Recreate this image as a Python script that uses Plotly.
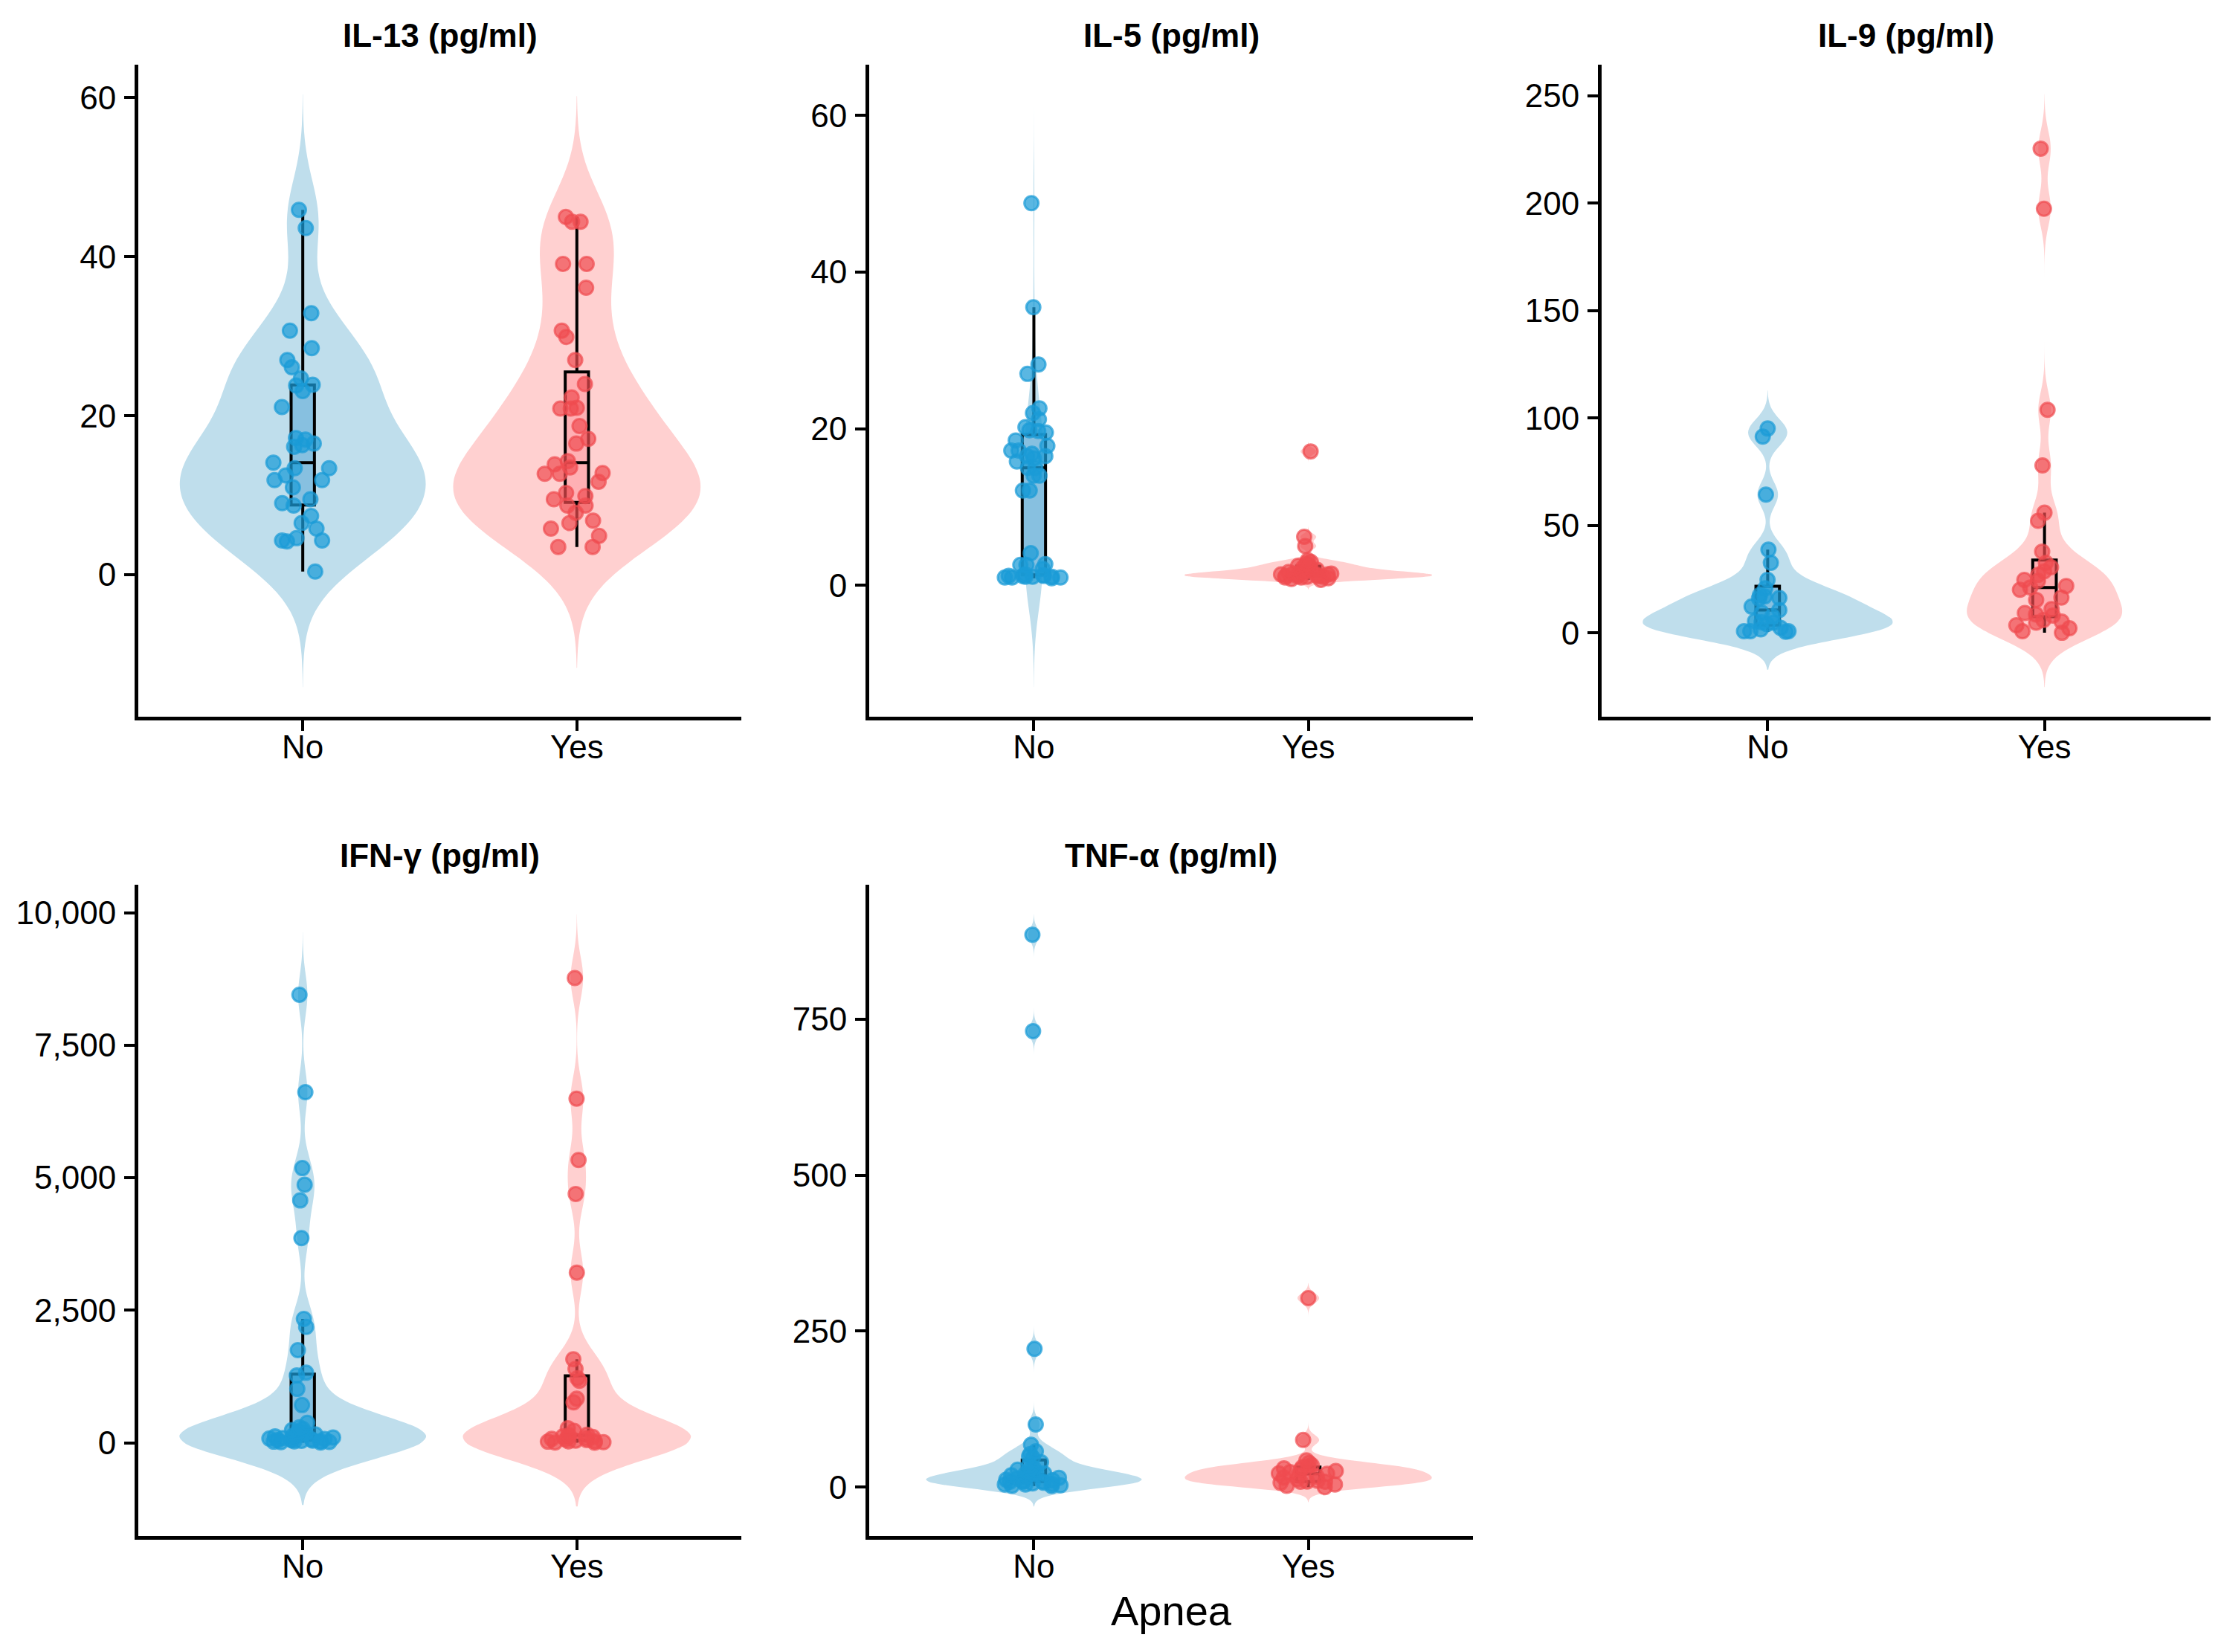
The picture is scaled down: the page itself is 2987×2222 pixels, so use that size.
import numpy as np
import plotly.graph_objects as go

# ---------------- data ----------------
categories = ["No", "Yes"]
panel_titles = ["IL-13 (pg/ml)", "IL-5 (pg/ml)", "IL-9 (pg/ml)", "IFN-γ (pg/ml)", "TNF-α (pg/ml)"]
x_title = "Apnea"

il13_no = [45.9, 43.6, 32.9, 30.7, 28.5, 27.0, 26.1, 24.7, 23.9, 23.8, 23.1, 21.1, 17.2, 16.5,
           17.0, 16.3, 16.1, 14.1, 13.4, 13.4, 12.5, 11.9, 11.9, 11.0, 9.5, 8.7, 9.0, 7.4, 6.5,
           5.8, 4.6, 4.3, 4.3, 4.2, 0.4]
il13_yes = [45.0, 44.4, 44.4, 39.1, 39.1, 36.1, 30.7, 29.9, 27.0, 24.0, 22.3, 21.0, 20.9, 20.9,
            18.7, 17.1, 16.5, 14.3, 13.9, 13.5, 12.8, 12.7, 12.7, 11.7, 10.3, 9.9, 9.5, 8.7, 8.7,
            7.8, 6.8, 6.5, 5.8, 4.9, 3.5, 3.5]

il5_no = [48.8, 35.5, 28.2, 27.0, 22.6, 22.0, 21.2, 19.8, 19.7, 20.2, 19.5, 18.5, 17.8, 17.2,
          17.2, 16.8, 16.5, 16.5, 16.2, 15.8, 15.0, 15.0, 14.0, 14.0, 12.1, 12.1, 4.1, 2.7, 2.6,
          2.6, 2.1, 1.4, 1.3, 1.2, 1.2, 1.2, 1.1, 1.1, 1.1, 1.0, 1.0, 1.0, 0.9]
il5_yes = [17.1, 6.2, 5.0, 3.2, 3.0, 2.8, 2.6, 2.5, 2.3, 2.2, 2.0, 1.9, 1.8, 1.7, 1.6, 1.5, 1.5,
           1.4, 1.4, 1.3, 1.3, 1.2, 1.2, 1.2, 1.1, 1.1, 1.0, 1.0, 0.9, 0.8, 0.7]

il9_no = [95.1, 91.3, 64.3, 38.7, 32.6, 24.6, 20.7, 17.6, 16.9, 16.0, 16.2, 12.2, 10.6, 9.4, 7.7,
          5.4, 4.9, 4.7, 4.0, 2.3, 0.7, 0.7, 0.5, 0.7, 1.6]
il9_yes = [225.4, 197.4, 103.8, 77.9, 55.9, 52.1, 37.8, 32.6, 30.5, 28.6, 27.0, 24.6, 24.2, 21.8,
           21.1, 20.0, 16.4, 15.3, 11.0, 9.2, 8.5, 8.0, 5.9, 5.2, 4.7, 3.5, 2.1, 0.7, 0.0]

ifn_no = [8453, 6614, 5182, 4867, 4572, 3861, 2337, 2185, 1748, 1321, 1270, 1016, 711, 376,
          290, 260, 240, 210, 180, 160, 150, 130, 120, 110, 100, 90, 80, 70, 65, 60, 50, 45,
          40, 35, 30, 25, 20, 15, 10, 5]
ifn_yes = [8768, 6492, 5334, 4694, 3211, 1575, 1392, 1219, 1168, 833, 762, 274, 224, 152,
           140, 120, 110, 100, 90, 75, 60, 50, 40, 30, 25, 20, 10, 5, 0]

tnf_no = [885.6, 731.0, 221.6, 100.5, 67.9, 57.6, 53.0, 49.0, 47.0, 40.0, 35.0, 30.0, 28.0, 26.0,
          24.0, 22.0, 21.5, 21.5, 19.0, 17.0, 15.0, 14.0, 12.0, 11.0, 10.0, 9.0, 8.6, 8.6, 7.0,
          6.0, 5.0, 4.3, 4.3, 3.0, 2.0, 1.7]
tnf_yes = [303.0, 75.6, 43.0, 38.7, 35.0, 33.0, 31.8, 30.0, 28.0, 25.8, 24.0, 22.0, 21.5, 18.9,
           17.0, 15.5, 12.9, 10.3, 9.0, 8.6, 8.6, 7.0, 4.3, 2.0, 0.0]

panel_data = [(il13_no, il13_yes), (il5_no, il5_yes), (il9_no, il9_yes),
              (ifn_no, ifn_yes), (tnf_no, tnf_yes)]
tick_steps = [20, 20, 50, 2500, 250]
tick_formats = ["", "", "", ",", ""]

# ---------------- styling ----------------
W, H = 2987, 2222
FONT = "Liberation Sans, Arial, Helvetica, sans-serif"
violin_fill = ["#BFDEEC", "#FFD0D0"]
box_fill = ["#87C0E0", "#FFB0B4"]
point_col = ["rgba(26,155,215,0.72)", "rgba(240,75,80,0.70)"]
VIOLIN_W = 0.9

col_px = [(186, 997), (1169, 1981), (2154, 2973)]
row_px = [(87, 964), (1190, 2066)]
panel_pos = [(0, 0), (0, 1), (0, 2), (1, 0), (1, 1)]


def nrd0(v):
    v = np.asarray(v, float)
    sd = v.std(ddof=1)
    q75, q25 = np.percentile(v, [75, 25])
    lo = min(sd, (q75 - q25) / 1.34)
    if lo <= 0:
        lo = sd if sd > 0 else 1.0
    return 0.9 * lo * len(v) ** -0.2


def kde_peak(v, bw, span):
    v = np.asarray(v, float)
    g = np.linspace(span[0], span[1], 3000)
    d = np.exp(-0.5 * ((g[:, None] - v[None, :]) / bw) ** 2).sum(1)
    return d.max() / (len(v) * bw * np.sqrt(2 * np.pi))


fig = go.Figure()
annotations = []
layout_axes = {}

for i, (groups, title) in enumerate(zip(panel_data, panel_titles)):
    r, c = panel_pos[i]
    xa = "x" if i == 0 else f"x{i+1}"
    ya = "y" if i == 0 else f"y{i+1}"
    bws = [nrd0(v) for v in groups]
    spans = [[min(v) - 3 * b, max(v) + 3 * b] for v, b in zip(groups, bws)]
    peaks = [kde_peak(v, b, s) for v, b, s in zip(groups, bws, spans)]
    # violins: equal-area scaling (widest peak gets the full width)
    for j, vals in enumerate(groups):
        fig.add_trace(go.Violin(
            x=[j + 1] * len(vals), y=vals, width=VIOLIN_W * peaks[j] / max(peaks),
            scalegroup=f"p{i}g{j}", scalemode="width",
            bandwidth=bws[j], spanmode="manual", span=spans[j],
            fillcolor=violin_fill[j], line=dict(width=0, color=violin_fill[j]),
            points=False, box_visible=False, meanline_visible=False, opacity=1,
            hoverinfo="skip", showlegend=False, xaxis=xa, yaxis=ya))
    # boxes (outliers hidden, whiskers at 1.5 IQR)
    for j, vals in enumerate(groups):
        fig.add_trace(go.Box(
            x=[j + 1] * len(vals), y=vals, width=0.085, fillcolor=box_fill[j],
            line=dict(color="black", width=4), whiskerwidth=0, boxpoints="outliers",
            marker=dict(size=1, opacity=0, color="rgba(0,0,0,0)"),
            quartilemethod="linear", hoverinfo="skip", showlegend=False, xaxis=xa, yaxis=ya))
    # jittered points
    for j, vals in enumerate(groups):
        fig.add_trace(go.Box(
            x=[j + 1] * len(vals), y=vals, width=0.25, boxpoints="all", jitter=1, pointpos=0,
            fillcolor="rgba(0,0,0,0)", line=dict(width=0, color="rgba(0,0,0,0)"),
            whiskerwidth=0,
            marker=dict(size=19, color=point_col[j], line=dict(width=3, color=point_col[j])),
            hoverinfo="skip", showlegend=False, xaxis=xa, yaxis=ya))

    lo = min(s[0] for s in spans)
    hi = max(s[1] for s in spans)
    pad = 0.05 * (hi - lo)
    common = dict(showline=True, linecolor="black", linewidth=5, ticks="outside",
                  ticklen=14, tickwidth=4, tickcolor="black", showgrid=False, zeroline=False,
                  tickfont=dict(family=FONT, size=44, color="black"), fixedrange=True)
    xkey = "xaxis" if i == 0 else f"xaxis{i+1}"
    ykey = "yaxis" if i == 0 else f"yaxis{i+1}"
    layout_axes[xkey] = dict(
        domain=[col_px[c][0] / W, col_px[c][1] / W], range=[0.4, 2.6],
        tickmode="array", tickvals=[1, 2], ticktext=categories, anchor=ya,
        ticklabelstandoff=-16, **common)
    layout_axes[ykey] = dict(
        domain=[1 - row_px[r][1] / H, 1 - row_px[r][0] / H], range=[lo - pad, hi + pad],
        tick0=0, dtick=tick_steps[i], tickformat=tick_formats[i], anchor=xa,
        ticklabelstandoff=2, **common)
    annotations.append(dict(
        text=f"<b>{title}</b>", xref="paper", yref="paper",
        x=(col_px[c][0] + col_px[c][1]) / 2 / W, y=1 - (row_px[r][0] - 40) / H,
        xanchor="center", yanchor="middle", showarrow=False,
        font=dict(family=FONT, size=44, color="black")))

annotations.append(dict(
    text=x_title, xref="paper", yref="paper",
    x=(col_px[1][0] + col_px[1][1]) / 2 / W, y=1 - 2166 / H,
    xanchor="center", yanchor="middle", showarrow=False,
    font=dict(family=FONT, size=56, color="black")))

fig.update_layout(
    width=W, height=H, margin=dict(l=0, r=0, t=0, b=0),
    paper_bgcolor="white", plot_bgcolor="white",
    font=dict(family=FONT, color="black"),
    annotations=annotations, showlegend=False,
    violinmode="overlay", boxmode="overlay", **layout_axes)

fig.write_html("out.html", config={"displayModeBar": False},
               post_script="document.body.style.margin='0';document.body.style.overflow='hidden';")
